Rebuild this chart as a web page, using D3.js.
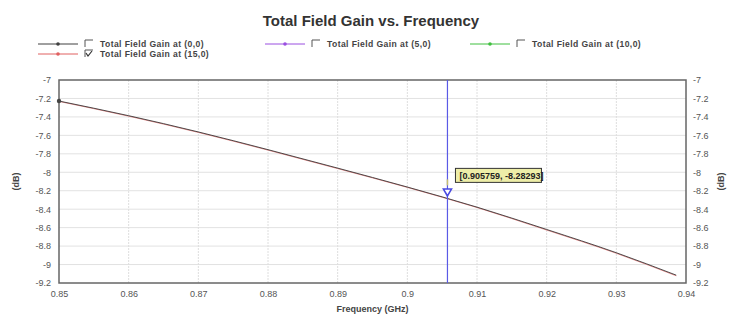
<!DOCTYPE html>
<html>
<head>
<meta charset="utf-8">
<script src="https://cdn.jsdelivr.net/npm/d3@7"></script>
<style>
  body { margin: 0; background: #fff; }
  text { font-family: "Liberation Sans", Arial, sans-serif; }
</style>
</head>
<body>
<div id="chart"></div>
<script>
// chart size and plot box
const width = 739;
const height = 324;
const margin = {left: 59, right: 53, top: 80, bottom: 41};

// data
const freqs = [0.85, 0.86, 0.87, 0.88, 0.89, 0.90, 0.91, 0.92, 0.93, 0.9386];
const gain00 = [-7.228, -7.387, -7.563, -7.755, -7.955, -8.160, -8.378, -8.620, -8.872, -9.115];
const gain150 = [-7.232, -7.392, -7.568, -7.760, -7.960, -8.164, -8.382, -8.626, -8.878, -9.122];
const seriesNames = ["Total Field Gain at (0,0)", "Total Field Gain at (5,0)", "Total Field Gain at (10,0)", "Total Field Gain at (15,0)"];
const seriesColors = ["#404040", "#9a4fe0", "#3fbf3f", "#e06060"];
const seriesChecked = [false, false, false, true];
const xTicks = [0.85, 0.86, 0.87, 0.88, 0.89, 0.9, 0.91, 0.92, 0.93, 0.94];
const yTicks = [-7, -7.2, -7.4, -7.6, -7.8, -8, -8.2, -8.4, -8.6, -8.8, -9, -9.2];
const cursorX = 0.905759;
const cursorY = -8.28293;

const svg = d3.select("#chart")
  .append("svg")
  .attr("width", width)
  .attr("height", height);

// scales
const x = d3.scaleLinear()
  .domain([0.85, 0.94])
  .range([margin.left, width - margin.right]);
const y = d3.scaleLinear()
  .domain([-9.2, -7])
  .range([height - margin.bottom, margin.top]);

// title
svg.append("text")
  .attr("x", 371)
  .attr("y", 26)
  .attr("text-anchor", "middle")
  .attr("font-size", "15px")
  .attr("font-weight", "bold")
  .attr("fill", "#333")
  .text("Total Field Gain vs. Frequency");

// legend
const legendPos = [[38, 44], [265, 44], [470, 44], [38, 54]];
seriesNames.forEach((name, i) => {
  const [lx, ly] = legendPos[i];
  const g = svg.append("g").attr("transform", `translate(${lx},${ly})`);
  g.append("line")
    .attr("x1", 0).attr("x2", 40).attr("y1", 0).attr("y2", 0)
    .attr("stroke", seriesColors[i]).attr("stroke-width", 1);
  g.append("circle")
    .attr("cx", 20).attr("cy", 0).attr("r", 1.8)
    .attr("fill", seriesColors[i]);
  // checkbox
  g.append("path")
    .attr("d", "M47,3 L47,-4 L55,-4")
    .attr("fill", "none").attr("stroke", "#555").attr("stroke-width", 1);
  if (seriesChecked[i]) {
    g.append("path")
      .attr("d", "M48,-1 L50,2 L54,-3")
      .attr("fill", "none").attr("stroke", "#333").attr("stroke-width", 1.2);
  }
  g.append("text")
    .attr("x", 62).attr("y", 3)
    .attr("font-size", "8.6px")
    .attr("font-weight", "bold")
    .attr("letter-spacing", "0.4px")
    .attr("fill", "#444")
    .text(name);
});

// gridlines
svg.append("g")
  .selectAll("line")
  .data(yTicks.slice(1, -1))
  .enter()
  .append("line")
    .attr("x1", margin.left).attr("x2", width - margin.right)
    .attr("y1", d => y(d)).attr("y2", d => y(d))
    .attr("stroke", "#e2e2e2");
svg.append("g")
  .selectAll("line")
  .data(xTicks.slice(1, -1))
  .enter()
  .append("line")
    .attr("x1", d => x(d)).attr("x2", d => x(d))
    .attr("y1", margin.top).attr("y2", height - margin.bottom)
    .attr("stroke", "#dedede")
    .attr("stroke-dasharray", "2,1");

// axes
const fmt = d => String(+d.toFixed(2));
const axisStyle = g => {
  g.select(".domain").remove();
  g.selectAll(".tick line").remove();
  g.selectAll("text").attr("fill", "#555").attr("font-size", "9px");
};
svg.append("g")
  .attr("transform", `translate(0,${height - margin.bottom})`)
  .call(d3.axisBottom(x).tickValues(xTicks).tickFormat(fmt).tickSize(0).tickPadding(8))
  .call(axisStyle);
svg.append("g")
  .attr("transform", `translate(${margin.left},0)`)
  .call(d3.axisLeft(y).tickValues(yTicks).tickFormat(fmt).tickSize(0).tickPadding(8))
  .call(axisStyle);
svg.append("g")
  .attr("transform", `translate(${width - margin.right},0)`)
  .call(d3.axisRight(y).tickValues(yTicks).tickFormat(fmt).tickSize(0).tickPadding(7))
  .call(axisStyle);

// plot frame
svg.append("rect")
  .attr("x", margin.left)
  .attr("y", margin.top)
  .attr("width", width - margin.left - margin.right)
  .attr("height", height - margin.top - margin.bottom)
  .attr("fill", "none")
  .attr("stroke", "#666")
  .attr("stroke-width", 1.5);

// axis titles
svg.append("text")
  .attr("transform", `translate(19,${y(-8.1)}) rotate(-90)`)
  .attr("text-anchor", "middle")
  .attr("font-size", "9px").attr("font-weight", "bold").attr("fill", "#444")
  .text("(dB)");
svg.append("text")
  .attr("transform", `translate(724,${y(-8.1)}) rotate(-90)`)
  .attr("text-anchor", "middle")
  .attr("font-size", "9px").attr("font-weight", "bold").attr("fill", "#444")
  .text("(dB)");
svg.append("text")
  .attr("x", x(0.895))
  .attr("y", 312)
  .attr("text-anchor", "middle")
  .attr("font-size", "9px").attr("font-weight", "bold").attr("fill", "#444")
  .text("Frequency (GHz)");

// series lines
const line = d3.line()
  .curve(d3.curveMonotoneX)
  .x((d, i) => x(freqs[i]))
  .y(d => y(d));
svg.append("path")
  .datum(gain150)
  .attr("d", line)
  .attr("fill", "none")
  .attr("stroke", seriesColors[3])
  .attr("stroke-width", 1)
  .attr("stroke-opacity", 0.7);
svg.append("path")
  .datum(gain00)
  .attr("d", line)
  .attr("fill", "none")
  .attr("stroke", "#333")
  .attr("stroke-width", 1)
  .attr("stroke-opacity", 0.85);
svg.append("circle")
  .attr("cx", x(freqs[0])).attr("cy", y(gain00[0])).attr("r", 2.2)
  .attr("fill", "#444");

// cursor
svg.append("line")
  .attr("x1", x(cursorX)).attr("x2", x(cursorX))
  .attr("y1", margin.top).attr("y2", height - margin.bottom)
  .attr("stroke", "#5a5ae6").attr("stroke-width", 1.2);
svg.append("line")
  .attr("x1", x(cursorX)).attr("x2", x(cursorX))
  .attr("y1", y(cursorY) - 19).attr("y2", y(cursorY) - 13)
  .attr("stroke", "#c8c070").attr("stroke-width", 1.5);
svg.append("path")
  .attr("d", d3.symbol(d3.symbolTriangle, 28))
  .attr("transform", `translate(${x(cursorX)},${y(cursorY) - 7}) rotate(180)`)
  .attr("fill", "#fff")
  .attr("stroke", "#4a4ae0")
  .attr("stroke-width", 1.6);
const label = svg.append("g")
  .attr("transform", `translate(${x(cursorX) + 8},${y(cursorY) - 30})`);
label.append("rect")
  .attr("width", 86).attr("height", 14)
  .attr("fill", "#eeeea8")
  .attr("stroke", "#333").attr("stroke-width", 1);
label.append("text")
  .attr("x", 4).attr("y", 10.5)
  .attr("font-size", "9px").attr("font-weight", "bold").attr("fill", "#222")
  .text(`[${cursorX}, ${cursorY}]`);
</script>
</body>
</html>
